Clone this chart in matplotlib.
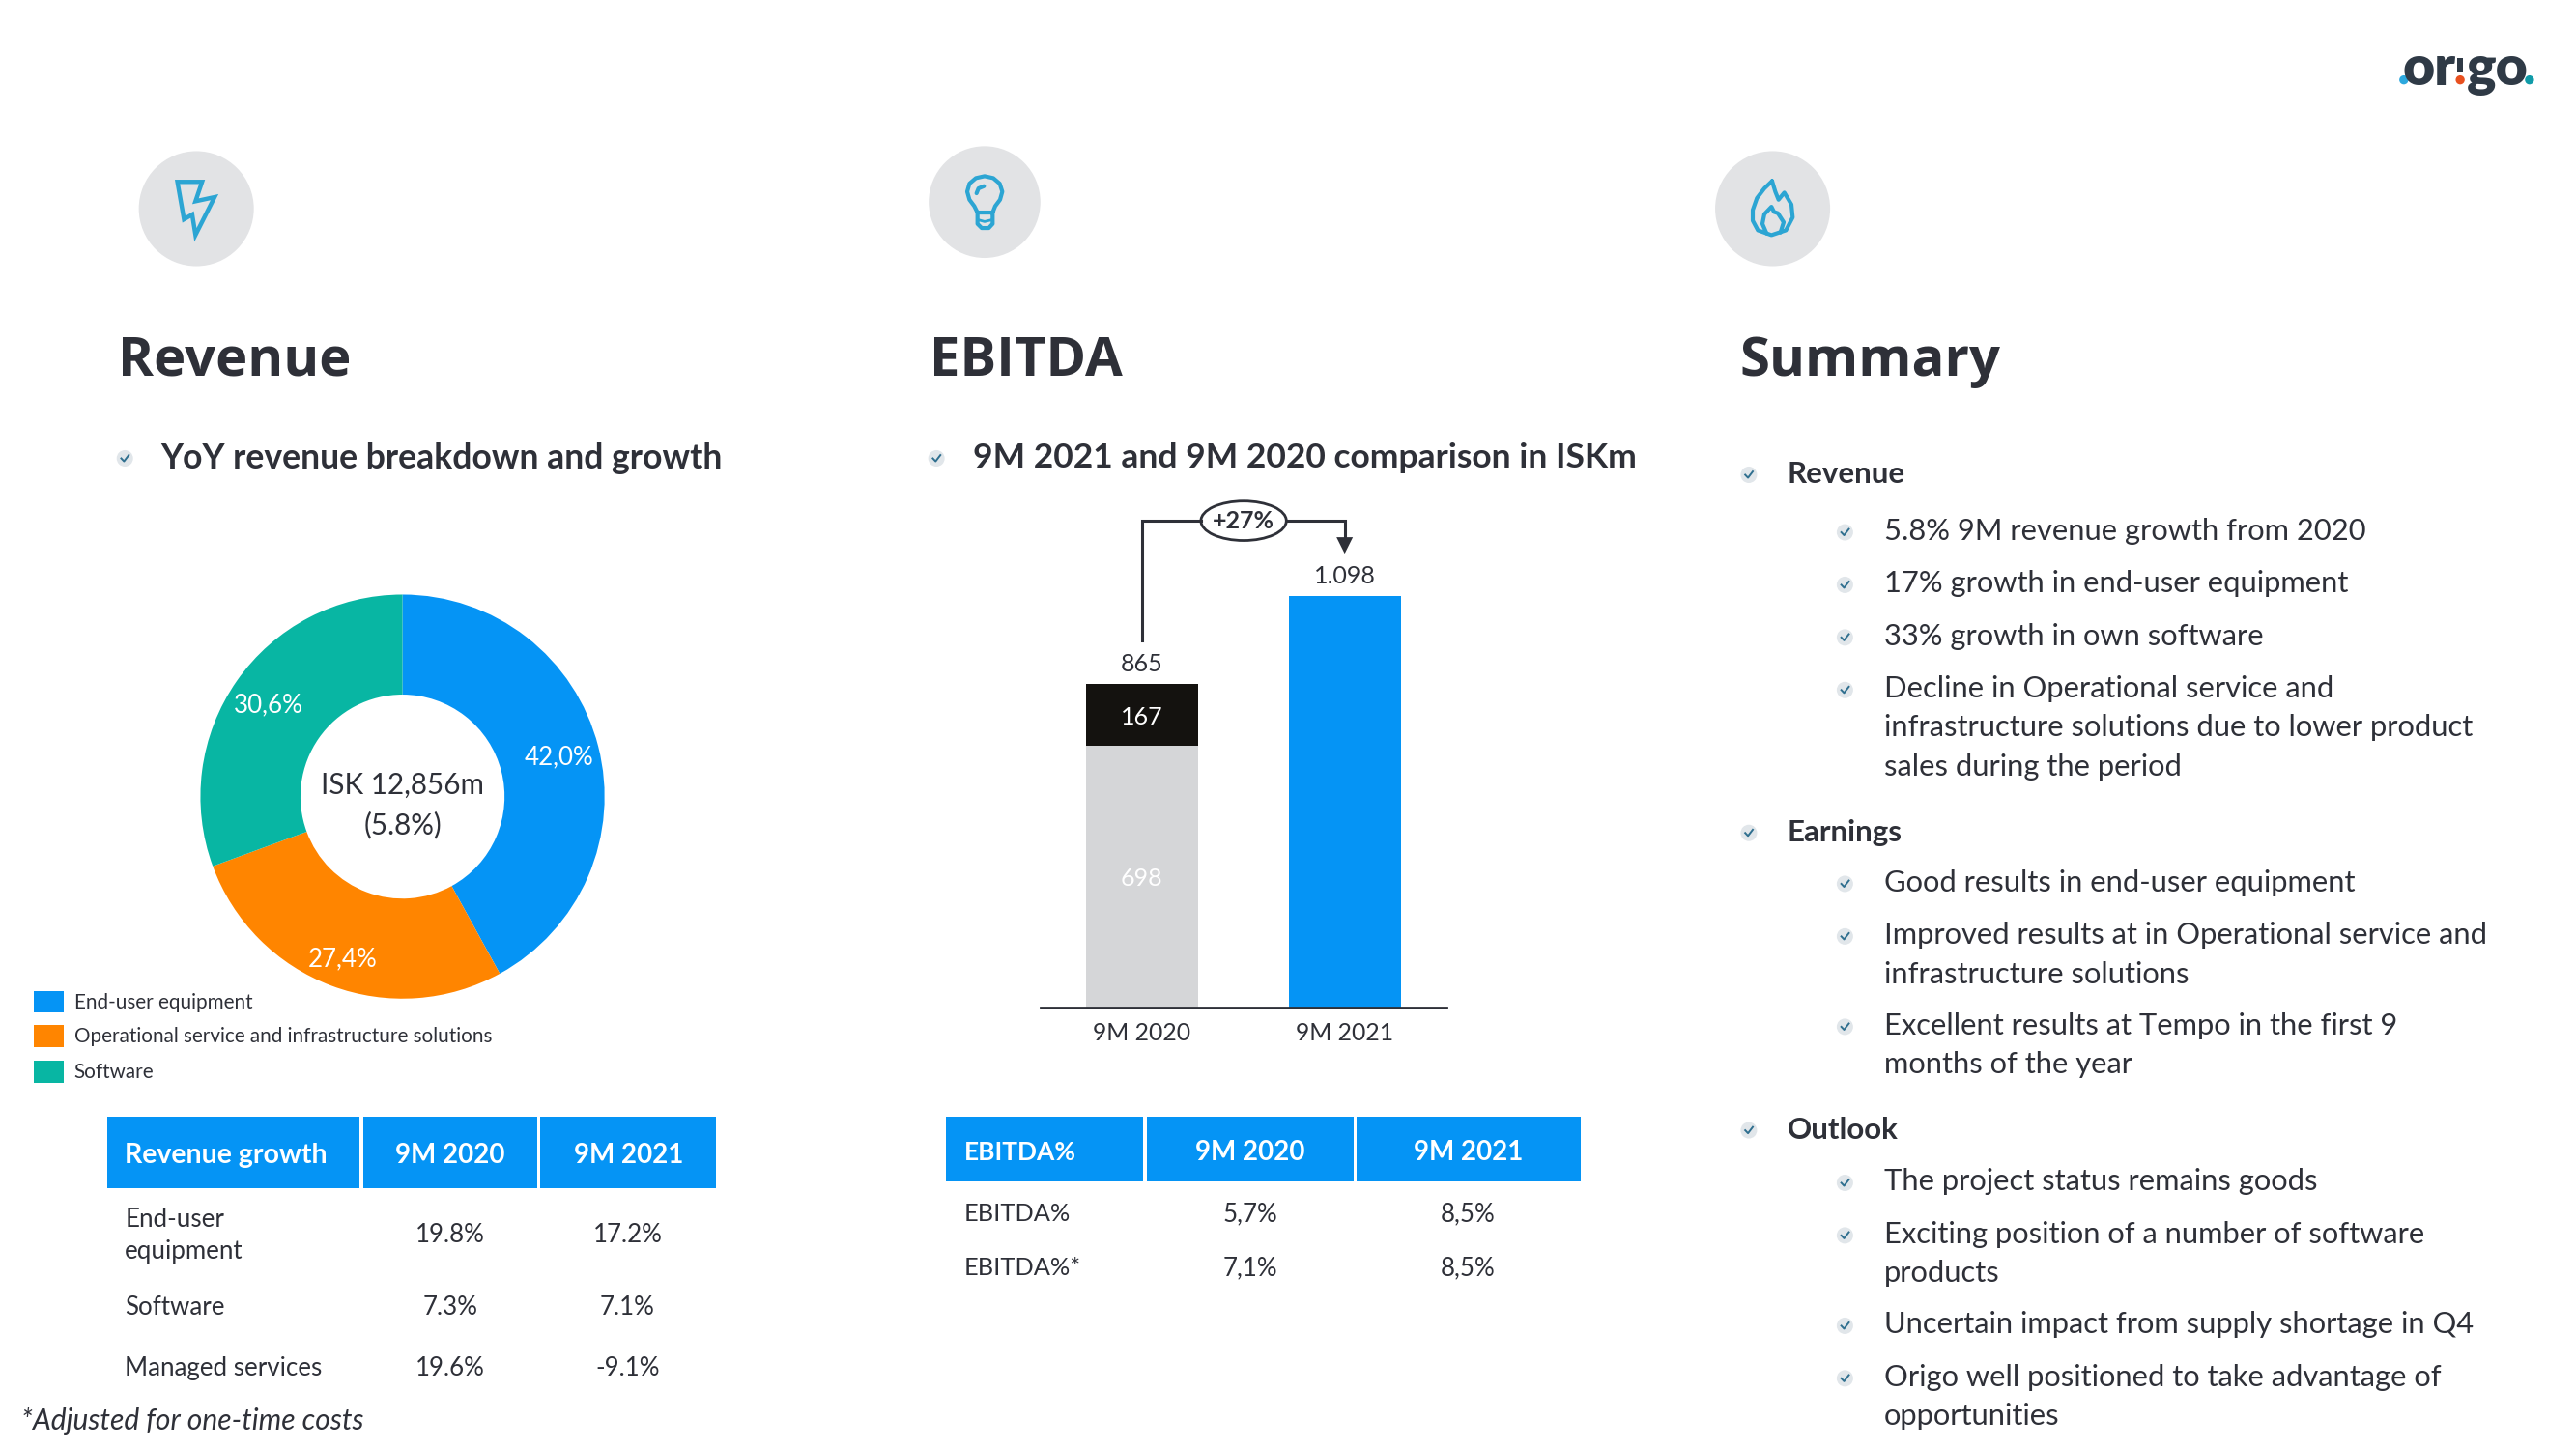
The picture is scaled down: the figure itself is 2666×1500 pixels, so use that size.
import matplotlib
matplotlib.use("Agg")
import matplotlib.pyplot as plt
from matplotlib.patches import Ellipse, Rectangle, Polygon

plt.rcParams['font.family'] = ['Lato', 'DejaVu Sans']
HEAD_FONT = ['Open Sans', 'DejaVu Sans']

# ---------- data ----------
donut_labels = ["End-user equipment", "Operational service and infrastructure solutions", "Software"]
donut_values = [42.0, 27.4, 30.6]
donut_text = ["42,0%", "27,4%", "30,6%"]
donut_colors = ["#0594F5", "#FF8500", "#08B6A3"]
bar_cats = ["9M 2020", "9M 2021"]
bar_base = [698, 0]
bar_adjust = [167, 0]
bar_main = [0, 1098]
rev_header = ["Revenue growth", "9M 2020", "9M 2021"]
rev_rows = [["End-user\nequipment", "19.8%", "17.2%"],
            ["Software", "7.3%", "7.1%"],
            ["Managed services", "19.6%", "-9.1%"]]
ebitda_header = ["EBITDA%", "9M 2020", "9M 2021"]
ebitda_rows = [["EBITDA%", "5,7%", "8,5%"],
               ["EBITDA%*", "7,1%", "8,5%"]]
summary = [
    (0, "Revenue", 288), (1, "5.8% 9M revenue growth from 2020", 323),
    (1, "17% growth in end-user equipment", 355), (1, "33% growth in own software", 387),
    (1, "Decline in Operational service and\ninfrastructure solutions due to lower product\nsales during the period", 419),
    (0, "Earnings", 506), (1, "Good results in end-user equipment", 537),
    (1, "Improved results at in Operational service and\ninfrastructure solutions", 569),
    (1, "Excellent results at Tempo in the first 9\nmonths of the year", 624),
    (0, "Outlook", 687), (1, "The project status remains goods", 719),
    (1, "Exciting position of a number of software\nproducts", 751),
    (1, "Uncertain impact from supply shortage in Q4", 806),
    (1, "Origo well positioned to take advantage of\nopportunities", 838),
]

W, H = 2666, 1500
S = W / 1568
DARK = "#2E3038"
BLUE = "#0594F5"
ICON = "#2CA5D3"
LOGO = "#2F3A46"

fig = plt.figure(figsize=(26.66, 15), dpi=100, facecolor="white")
bg = fig.add_axes([0, 0, 1, 1], zorder=5)
bg.set_xlim(0, 1568); bg.set_ylim(882, 0); bg.axis("off")

def T(x, y, s, size=26, color=DARK, ha="left", va="center", weight="normal", **kw):
    return bg.text(x, y, s, fontsize=size, color=color, ha=ha, va=va, fontweight=weight, **kw)

def bullet(x, y):
    bg.add_patch(Ellipse((x, y), 10, 10, fc="#E1E6EA", ec="none"))
    bg.plot([x-2.2, x-0.5, x+2.4], [y, y+1.8, y-2], color="#2F6F8F", lw=1.4)

def icon_circle(x, y, r=35):
    bg.add_patch(Ellipse((x, y), 2*r, 2*r, fc="#E2E3E5", ec="none"))

def stroke(pts, ox, oy, lw=3.0):
    xs = [(ox + p[0] / 3) / S for p in pts]
    ys = [(oy + p[1] / 3) / S for p in pts]
    bg.plot(xs, ys, color=ICON, lw=lw, solid_joinstyle="round", solid_capstyle="round")

# icons
icon_circle(119.5, 127)
bg.add_patch(Polygon([(108, 110.7), (123, 110.7), (119, 122.5), (130.6, 120), (119, 143), (117, 130.6), (112, 133.5)],
                     closed=True, fc="none", ec=ICON, lw=3.2, joinstyle="miter"))
icon_circle(599.3, 123, 34)
stroke([(215, 240), (205, 220), (190, 200), (183, 175), (190, 150), (210, 133), (237, 127), (264, 133), (284, 150),
        (292, 175), (285, 200), (270, 220), (262, 240), (215, 240), (215, 275), (228, 288), (250, 288), (262, 275), (262, 240)], 940, 140)
stroke([(215, 262), (237, 268), (262, 262)], 940, 140, 2.0)
stroke([(212, 180), (218, 165), (235, 158)], 940, 140)
icon_circle(1079, 127)
stroke([(252, 172), (228, 195), (205, 225), (192, 262), (192, 295), (208, 325), (250, 340), (295, 325), (316, 285),
        (312, 245), (290, 208), (272, 230), (262, 205), (252, 172)], 1750, 130)
stroke([(235, 335), (222, 305), (228, 275), (250, 252), (258, 268), (270, 272), (288, 300), (278, 332)], 1750, 130)

# logo
T(1494.5, 51.6, "or", size=41, weight="heavy", ha="right", va="baseline", color=LOGO)
T(1501.5, 51.6, "go", size=41, weight="heavy", ha="left", va="baseline", color=LOGO)
bg.add_patch(Rectangle((1495.8, 35.3), 3.5, 8.8, fc=LOGO, ec="none"))
for x, c in [(1463.2, "#2CA8DE"), (1497.5, "#E8501F"), (1539.7, "#109BA8")]:
    bg.add_patch(Ellipse((x, 48.6), 5.5, 5.5, fc=c, ec="none"))

# headings
for x, s in [(72, "Revenue"), (566, "EBITDA"), (1059, "Summary")]:
    T(x, 220, s, size=40.5, weight="bold", family=HEAD_FONT)
bullet(76, 279); T(98, 279, "YoY revenue breakdown and growth", size=25.7, weight="bold")
bullet(570, 279); T(592, 278.5, "9M 2021 and 9M 2020 comparison in ISKm", size=25.5, weight="bold")

# donut
cx, cy, r = 245 * S, 485 * S, 123 * S
dax = fig.add_axes([(cx - r) / W, 1 - (cy + r) / H, 2 * r / W, 2 * r / H], zorder=1)
dax.pie(donut_values, colors=donut_colors, startangle=90, counterclock=False, radius=1,
        wedgeprops=dict(width=0.495, linewidth=0))
dax.set_xlim(-1, 1); dax.set_ylim(-1, 1); dax.axis("off")
for (x, y), s in zip([(340.5, 461), (208.5, 584), (163.5, 429)], donut_text):
    T(x, y, s, size=18.7, color="white", ha="center")
T(245, 478, "ISK 12,856m", size=21.3, ha="center")
T(245, 502, "(5.8%)", size=21.3, ha="center")

# legend
for y, lab, c in zip([609.5, 630.5, 652], donut_labels, donut_colors):
    bg.add_patch(Rectangle((20.5, y - 6.5), 18.5, 13.5, fc=c, ec="none"))
    T(45, y + 0.7, lab, size=14.85)

# revenue table
for (x0, x1), h, ha, fs in zip([(65, 219), (221, 327), (329, 436)], rev_header, ["left", "center", "center"], [20.5, 20, 20]):
    bg.add_patch(Rectangle((x0, 680), x1 - x0, 43, fc=BLUE, ec="none"))
    T(x0 + 11 if ha == "left" else (x0 + x1) / 2, 703.5, h, size=fs, color="white", ha=ha, weight="bold")
for row, y in zip(rev_rows, [752, 796, 833]):
    T(76, y, row[0], size=18.6, linespacing=1.4)
    T(274, y, row[1], size=18.6, ha="center")
    T(382, y, row[2], size=18.6, ha="center")
T(13, 865, "*Adjusted for one-time costs", size=21.6, style="italic")

# ebitda table
for (x0, x1), h, ha, fs in zip([(576, 696), (698, 824), (826, 962)], ebitda_header, ["left", "center", "center"], [19, 20, 20]):
    bg.add_patch(Rectangle((x0, 680), x1 - x0, 39, fc=BLUE, ec="none"))
    T(x0 + 11 if ha == "left" else (x0 + x1) / 2, 701.5, h, size=fs, color="white", ha=ha, weight="bold")
for row, y in zip(ebitda_rows, [739, 772]):
    T(587, y, row[0], size=18.3)
    T(761, y, row[1], size=18.6, ha="center")
    T(893.5, y, row[2], size=18.6, ha="center")

# bar chart
ax_l, ax_r = 633.3 * S, 880.3 * S
base_y, top_y = 613.3 * S, 363 * S
bax = fig.add_axes([ax_l / W, 1 - base_y / H, (ax_r - ax_l) / W, (base_y - top_y) / H], zorder=1)
bax.patch.set_alpha(0)
xpos = [0, 1]
bax.bar(xpos, bar_base, width=0.553, color="#D5D6D8")
bax.bar(xpos, bar_adjust, width=0.553, bottom=bar_base, color="#14120F")
bax.bar(xpos, bar_main, width=0.553, color=BLUE)
bax.set_xlim(-0.5, 1.5)
bax.set_ylim(0, 1098)
for s in ["top", "left", "right"]:
    bax.spines[s].set_visible(False)
bax.spines["bottom"].set_color(DARK); bax.spines["bottom"].set_linewidth(2)
bax.set_yticks([])
bax.set_xticks(xpos, bar_cats, fontsize=17.8, color=DARK)
bax.tick_params(axis="x", length=0, pad=11)
for v, b in [(bar_base[0], 0), (bar_adjust[0], bar_base[0])]:
    bax.annotate(str(v), xy=(0, b + v / 2), xytext=(0, -1.8), textcoords="offset points",
                 color="white", fontsize=18, ha="center", va="center")
T(695, 404, str(bar_base[0] + bar_adjust[0]), size=18, ha="center")
T(818.5, 351, "1.098", size=18, ha="center")

# growth arrow
bg.plot([695, 695, 731], [390, 317, 317], color=DARK, lw=2.2, solid_joinstyle="miter")
bg.plot([783, 818.5, 818.5], [317, 317, 328], color=DARK, lw=2.2, solid_joinstyle="miter")
bg.add_patch(Polygon([(813.5, 327), (823.5, 327), (818.5, 337)], closed=True, fc=DARK, ec="none"))
bg.add_patch(Ellipse((757, 317), 52, 24, fc="white", ec=DARK, lw=2))
T(757, 317, "+27%", size=18, ha="center", weight="bold")

# summary
for lvl, txt, y in summary:
    if lvl == 0:
        bullet(1064.5, y + 1)
        T(1088, y + 1, txt, size=22.5, weight="bold")
    else:
        bullet(1123, y + 1)
        T(1147, y - 8, txt, size=22.2, va="top", linespacing=1.54)

fig.savefig("out.png", dpi=100, facecolor="white")
